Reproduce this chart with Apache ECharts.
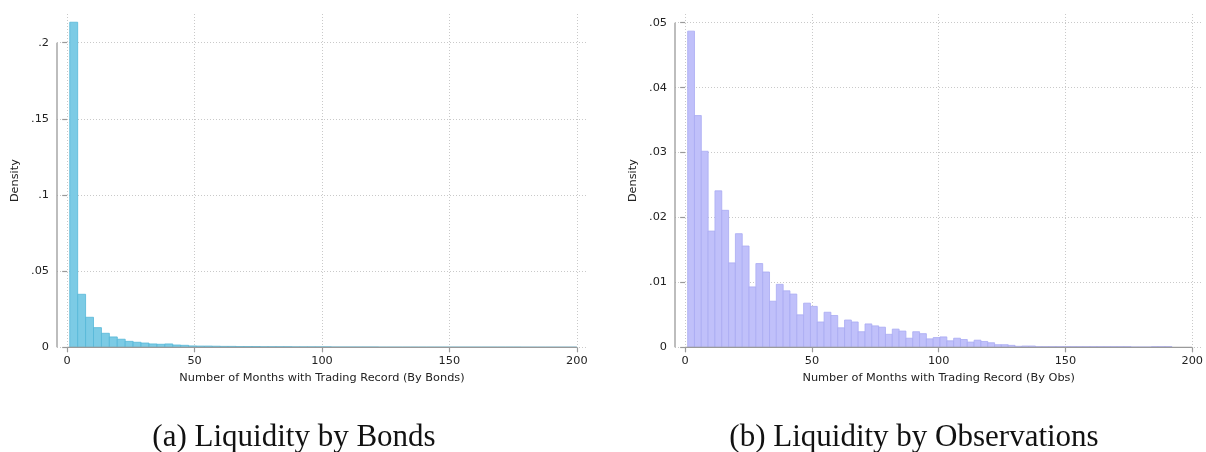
<!DOCTYPE html>
<html>
<head>
<meta charset="utf-8">
<title>Liquidity histograms</title>
<script src="https://cdn.jsdelivr.net/npm/echarts@6/dist/echarts.min.js"></script>
<style>
    html, body { margin: 0; padding: 0; background: #fff; }
    #main { width: 1206px; height: 452px; }
</style>
</head>
<body>
<div id="main"></div>
<script>
    // (a) months with trading record, counted by bond
    var bondsStart = 1;
    var bondsWidth = 3.11;
    var bondsDensity = [
        0.2134, 0.0348, 0.0197, 0.0129, 0.0092, 0.0068, 0.0053, 0.0039, 0.0033, 0.0028,
        0.0022, 0.0020, 0.0022, 0.0015, 0.0013, 0.0009, 0.0008, 0.0008, 0.0007, 0.0006,
        0.0006, 0.0005, 0.0005, 0.0005, 0.0004, 0.0004, 0.0004, 0.0004, 0.0003, 0.0003,
        0.0003, 0.0003, 0.0003, 0.0002, 0.0002, 0.0002, 0.0002, 0.0002, 0.0002, 0.0001,
        0.0001, 0.0001, 0.0001, 0.0001, 0.0001, 0.0001, 0.0001, 0.0001, 0.0001, 0.0001,
        0.0001, 0.0001, 0.0001, 0.0001, 0.0001, 0.0001, 0.0001, 0.00005, 0.00005, 0.00005,
        0.00005, 0.00005, 0.00005, 0.00005
    ];

    // (b) months with trading record, counted by observation
    var obsStart = 1;
    var obsWidth = 2.69;
    var obsDensity = [
        0.0487, 0.0357, 0.0302, 0.0179, 0.0241, 0.0211, 0.0130, 0.0175, 0.0156, 0.0093,
        0.0129, 0.0116, 0.0071, 0.0097, 0.0087, 0.0082, 0.0050, 0.0068, 0.0063, 0.0039,
        0.0054, 0.0049, 0.0030, 0.0042, 0.0039, 0.0024, 0.0036, 0.0033, 0.0031, 0.0020,
        0.0028, 0.0025, 0.0014, 0.0024, 0.0021, 0.0013, 0.0015, 0.0016, 0.0010, 0.0014,
        0.0012, 0.0008, 0.0011, 0.0009, 0.0007, 0.0004, 0.0004, 0.0003, 0.00015, 0.0002,
        0.0002, 0.0001, 0.0001, 0.0001, 0.0001, 0.0001, 0.0001, 0.0001, 0.0001, 0.0001,
        0.0001, 0.0001, 0.0001, 0.0001, 0.0001, 0.00005, 0.00005, 0.00005, 0.0001, 0.0001,
        0.0001
    ];

    var xTicks = [0, 50, 100, 150, 200];
    var bondsYTicks = [0, 0.05, 0.1, 0.15, 0.2];
    var obsYTicks = [0, 0.01, 0.02, 0.03, 0.04, 0.05];

    var xTitles = ['Number of Months with Trading Record (By Bonds)', 'Number of Months with Trading Record (By Obs)'];
    var captions = ['(a) Liquidity by Bonds', '(b) Liquidity by Observations'];

    // plot region is a bit wider than the tick range, like stata does
    var xMin = -4, xMax = 204;

    function toBins(start, width, dens) {
        var out = [];
        for (var i = 0; i < dens.length; i++) {
            out.push([start + i * width, start + (i + 1) * width, dens[i]]);
        }
        return out;
    }

    function renderBin(params, api) {
        var p0 = api.coord([api.value(0), api.value(2)]);
        var p1 = api.coord([api.value(1), 0]);
        return {
            type: 'rect',
            shape: {x: p0[0], y: p0[1], width: p1[0] - p0[0], height: p1[1] - p0[1]},
            style: api.style()
        };
    }

    function tickLabel(v) {
        if (v === 0) return '0';
        return String(+v.toFixed(4)).replace(/^0\./, '.');
    }

    var font = 'DejaVu Sans';
    var fs = 11.3;
    var axisColor = '#9a9a9a';
    var gridLine = {show: true, showMinLine: true, showMaxLine: true, lineStyle: {color: '#c9c9c9', width: 1, type: [1, 2]}};

    function xAxisFor(idx, title) {
        return {
            type: 'value', gridIndex: idx, min: xMin, max: xMax,
            name: title, nameLocation: 'middle', nameGap: 25,
            nameTextStyle: {fontFamily: font, fontSize: fs, color: '#222'},
            axisLine: {show: false},
            axisTick: {show: true, customValues: xTicks, length: 5, lineStyle: {color: axisColor, width: 1.2}},
            axisLabel: {customValues: xTicks, margin: 8, fontFamily: font, fontSize: fs, color: '#222'},
            splitLine: gridLine
        };
    }

    function yAxisFor(idx, ticks, max) {
        return {
            type: 'value', gridIndex: idx, min: 0, max: max, interval: ticks[1],
            name: 'Density', nameLocation: 'middle', nameGap: 36, nameRotate: 90,
            nameTextStyle: {fontFamily: font, fontSize: fs, color: '#222'},
            axisLine: {show: false},
            axisTick: {show: true, customValues: ticks, length: 5, lineStyle: {color: axisColor, width: 1.2}},
            axisLabel: {customValues: ticks, margin: 8, fontFamily: font, fontSize: fs, color: '#222', formatter: tickLabel},
            splitLine: gridLine
        };
    }

    function axisLines(idx, yTop) {
        return [
            {
                type: 'line', xAxisIndex: idx, yAxisIndex: idx, symbol: 'none', silent: true, clip: false, z: 5,
                lineStyle: {color: axisColor, width: 1.3},
                data: [[xTicks[0], 0], [xTicks[xTicks.length - 1], 0]]
            },
            {
                type: 'line', xAxisIndex: idx, yAxisIndex: idx, symbol: 'none', silent: true, clip: false, z: 5,
                lineStyle: {color: axisColor, width: 1.3},
                data: [[xMin, 0], [xMin, yTop]]
            }
        ];
    }

    var myChart = echarts.init(document.getElementById('main'));
    var option = {
        animation: false,
        backgroundColor: '#fff',
        title: [
            {text: captions[0], left: 294, top: 422, textAlign: 'center', padding: 0,
                textStyle: {fontFamily: 'Liberation Serif', fontSize: 31, fontWeight: 'normal', color: '#111'}},
            {text: captions[1], left: 914, top: 422, textAlign: 'center', padding: 0,
                textStyle: {fontFamily: 'Liberation Serif', fontSize: 31, fontWeight: 'normal', color: '#111'}}
        ],
        grid: [
            {left: 57, top: 14, width: 530, height: 333.3},
            {left: 675, top: 14, width: 530, height: 333.3}
        ],
        xAxis: [xAxisFor(0, xTitles[0]), xAxisFor(1, xTitles[1])],
        yAxis: [yAxisFor(0, bondsYTicks, 0.2188), yAxisFor(1, obsYTicks, 0.05134)],
        series: [
            {
                type: 'custom', xAxisIndex: 0, yAxisIndex: 0, renderItem: renderBin,
                itemStyle: {color: '#7ccbe5', borderColor: '#55b7d8', borderWidth: 0.8},
                data: toBins(bondsStart, bondsWidth, bondsDensity)
            },
            {
                type: 'custom', xAxisIndex: 1, yAxisIndex: 1, renderItem: renderBin,
                itemStyle: {color: '#c0c0fa', borderColor: '#a9abf3', borderWidth: 0.8},
                data: toBins(obsStart, obsWidth, obsDensity)
            }
        ].concat(axisLines(0, bondsYTicks[bondsYTicks.length - 1]), axisLines(1, obsYTicks[obsYTicks.length - 1]))
    };
    myChart.setOption(option);
</script>
</body>
</html>
